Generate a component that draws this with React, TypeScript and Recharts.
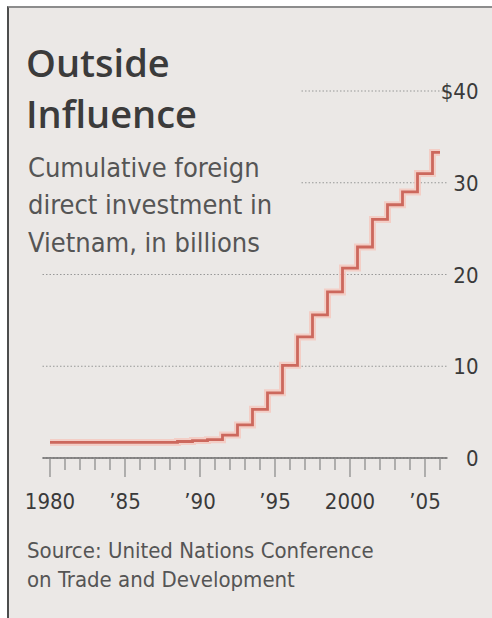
import React from 'react';
import { LineChart, Line, XAxis, YAxis, CartesianGrid } from 'recharts';

const years = [
  1980, 1981, 1982, 1983, 1984, 1985, 1986, 1987, 1988, 1989,
  1990, 1991, 1992, 1993, 1994, 1995, 1996, 1997, 1998, 1999,
  2000, 2001, 2002, 2003, 2004, 2005, 2006,
];
const fdiBillions = [
  1.7, 1.7, 1.7, 1.7, 1.7, 1.7, 1.7, 1.7, 1.7, 1.8,
  1.9, 2.0, 2.5, 3.6, 5.3, 7.1, 10.1, 13.2, 15.6, 18.1,
  20.7, 23.0, 26.0, 27.6, 29.0, 31.0, 33.3,
];
const majorTickYears = [1980, 1985, 1990, 1995, 2000, 2005];
const majorTickLabels = ['1980', '\u201985', '\u201990', '\u201995', '2000', '\u201905'];
const yTicks = [0, 10, 20, 30, 40];
const yTickLabels = ['0', '10', '20', '30', '$40'];
const titleLines = ['Outside', 'Influence'];
const subtitleLines = ['Cumulative foreign', 'direct investment in', 'Vietnam, in billions'];
const sourceLines = ['Source: United Nations Conference', 'on Trade and Development'];

const data = years.map((year, i) => ({ year, value: fdiBillions[i] }));

const BG = '#ebe8e6';
const COND = "'DejaVu Sans Condensed', 'DejaVu Sans', sans-serif";
const TITLE = "'Open Sans', 'DejaVu Sans', sans-serif";

const XTick = (props: any) => {
  const { x, y, payload } = props;
  const idx = majorTickYears.indexOf(payload.value);
  const major = idx >= 0;
  return (
    <g>
      <line x1={x} x2={x} y1={y} y2={y + (major ? 19 : 12)} stroke="#8e8e8e" strokeWidth={1.3} />
      {major && (
        <text
          x={x}
          y={y + 51}
          textAnchor="middle"
          fontFamily={COND}
          fontStretch="condensed"
          fontSize={22}
          fill="#3a3a3a"
        >
          {majorTickLabels[idx]}
        </text>
      )}
    </g>
  );
};

const YTick = (props: any) => {
  const { x, y, payload } = props;
  const idx = yTicks.indexOf(payload.value);
  return (
    <text
      x={x + 31}
      y={y + 8}
      textAnchor="end"
      fontFamily={COND}
      fontStretch="condensed"
      fontSize={22}
      fill="#3a3a3a"
    >
      {yTickLabels[idx]}
    </text>
  );
};

export default function App() {
  return (
    <div style={{ position: 'absolute', left: 0, top: 0, width: 492, height: 618, background: '#ffffff', overflow: 'hidden' }}>
      <div
        style={{
          position: 'absolute',
          left: 7,
          top: 6,
          width: 485,
          height: 612,
          background: BG,
          borderLeft: '2px solid #4d4d4d',
          borderTop: '2px solid #8c8c8c',
          boxSizing: 'border-box',
        }}
      />
      <div style={{ position: 'absolute', left: 0, top: 0 }}>
        <LineChart
          width={492}
          height={618}
          data={data}
          margin={{ top: 91, right: 4.5, bottom: 120, left: 42.5 }}
        >
          <CartesianGrid vertical={false} stroke="#989898" strokeDasharray="1.5 2" strokeWidth={1.2} />
          <XAxis
            dataKey="year"
            type="number"
            domain={[1979.5, 2006.5]}
            ticks={years}
            interval={0}
            tickSize={0}
            tickMargin={0}
            height={40}
            axisLine={{ stroke: '#6a6a6a', strokeWidth: 1.6 }}
            tickLine={false}
            tick={<XTick />}
            allowDataOverflow
          />
          <YAxis
            orientation="right"
            type="number"
            domain={[0, 40]}
            ticks={yTicks}
            interval={0}
            width={40}
            tickSize={0}
            tickMargin={0}
            axisLine={false}
            tickLine={false}
            tick={<YTick />}
          />
          <Line
            dataKey="value"
            type="step"
            stroke="#f5c7be"
            strokeWidth={7}
            strokeOpacity={0.8}
            dot={false}
            activeDot={false}
            isAnimationActive={false}
          />
          <Line
            dataKey="value"
            type="step"
            stroke="#cc685d"
            strokeWidth={2.8}
            dot={false}
            activeDot={false}
            isAnimationActive={false}
          />
        </LineChart>
      </div>
      <svg
        width={492}
        height={618}
        style={{ position: 'absolute', left: 0, top: 0, pointerEvents: 'none' }}
      >
        <rect x={9} y={8} width={291} height={250} fill={BG} />
        {titleLines.map((t, i) => (
          <text key={t} x={26} y={77 + i * 51} fontFamily={TITLE} fontWeight={600} fontSize={38} fill="#3b3b3b">
            {t}
          </text>
        ))}
        {subtitleLines.map((t, i) => (
          <text key={t} x={28} y={177 + i * 37.3} fontFamily={COND} fontStretch="condensed" fontSize={27} fill="#555555">
            {t}
          </text>
        ))}
        {sourceLines.map((t, i) => (
          <text key={t} x={27} y={558 + i * 28.5} fontFamily={COND} fontStretch="condensed" fontSize={22} fill="#555555">
            {t}
          </text>
        ))}
      </svg>
    </div>
  );
}
